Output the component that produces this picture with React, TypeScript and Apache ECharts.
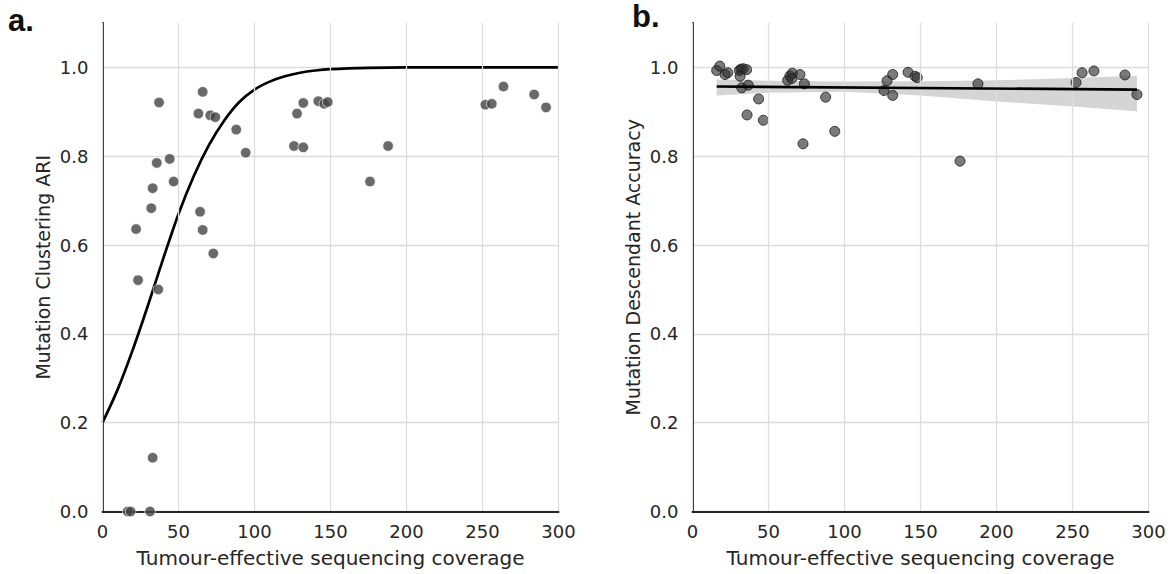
import React, { useEffect, useRef } from "react";
import * as echarts from "echarts";

// Panel a: mutation clustering ARI vs coverage
const clusterCoverage = [16.6, 18.5, 31.3, 33.0, 22.1, 23.4, 32.1, 33.0, 35.7, 36.7, 37.2, 44.2, 46.8, 63.1, 64.2, 65.9, 65.9, 70.9, 72.9, 74.2, 88.0, 94.2, 126.0, 128.0, 132.1, 132.1, 142.0, 145.9, 148.2, 176.0, 187.9, 251.9, 256.1, 263.8, 284.0, 291.8];
const clusterARI = [0.0, 0.0, 0.0, 0.121, 0.636, 0.521, 0.683, 0.728, 0.785, 0.5, 0.921, 0.794, 0.743, 0.896, 0.675, 0.945, 0.634, 0.892, 0.581, 0.888, 0.86, 0.808, 0.823, 0.896, 0.82, 0.92, 0.924, 0.918, 0.922, 0.743, 0.823, 0.916, 0.918, 0.957, 0.939, 0.91];

// Panel a: fitted curve
const fitCoverage = [0, 10, 20, 30, 40, 50, 60, 70, 80, 90, 100, 110, 120, 130, 140, 150, 175, 200, 250, 300];
const fitARI = [0.2, 0.275, 0.365, 0.465, 0.57, 0.67, 0.755, 0.825, 0.88, 0.922, 0.95, 0.968, 0.98, 0.988, 0.993, 0.996, 0.999, 1.0, 1.0, 1.0];

// Panel b: mutation descendant accuracy vs coverage
const descCoverage = [15.9, 17.9, 21.4, 23.2, 30.8, 31.9, 33.4, 35.6, 31.3, 32.4, 36.7, 43.5, 35.9, 46.6, 62.6, 64.1, 65.7, 65.3, 70.7, 73.6, 72.7, 87.6, 93.6, 126.0, 128.0, 131.7, 131.7, 141.8, 146.4, 147.9, 187.8, 176.0, 252.3, 256.3, 264.1, 284.5, 292.4];
const descAccuracy = [0.993, 1.003, 0.984, 0.988, 0.993, 0.996, 0.997, 0.995, 0.98, 0.954, 0.96, 0.929, 0.893, 0.881, 0.971, 0.981, 0.987, 0.975, 0.984, 0.963, 0.828, 0.933, 0.856, 0.948, 0.97, 0.984, 0.937, 0.989, 0.98, 0.977, 0.963, 0.789, 0.966, 0.988, 0.992, 0.983, 0.939];

// Panel b: regression line and confidence band
const regCoverage = [15.9, 292.4];
const regAccuracy = [0.957, 0.95];
const bandCoverage = [15.9, 50, 100, 150, 200, 250, 292.4];
const bandLower = [0.937, 0.943, 0.945, 0.937, 0.923, 0.912, 0.901];
const bandUpper = [0.973, 0.97, 0.968, 0.969, 0.971, 0.976, 0.981];

const xTicks = [0, 50, 100, 150, 200, 250, 300];
const yTicks = [0, 0.2, 0.4, 0.6, 0.8, 1.0];

const TEXT = "#262626";
const FONT = "DejaVu Sans";

export default function App() {
  const ref = useRef<HTMLDivElement>(null);
  useEffect(() => {
    const chart = echarts.init(ref.current!, null, { renderer: "svg" });

    const xAxis = (gridIndex: number) => ({
      type: "value",
      gridIndex,
      min: xTicks[0],
      max: xTicks[xTicks.length - 1],
      interval: 50,
      name: "Tumour-effective sequencing coverage",
      nameLocation: "middle",
      nameGap: 36,
      nameTextStyle: { fontSize: 20, color: TEXT, fontFamily: FONT },
      axisLine: { show: true, lineStyle: { color: TEXT, width: 2 } },
      axisTick: { show: false },
      axisLabel: { fontSize: 18, color: TEXT, fontFamily: FONT, margin: 11 },
      splitLine: { show: true, lineStyle: { color: "#dcdcdc", width: 1.3 } },
      z: 3,
    });
    const yAxis = (gridIndex: number, name: string) => ({
      type: "value",
      gridIndex,
      min: 0,
      max: 1.1,
      interval: 0.2,
      name,
      nameLocation: "middle",
      nameGap: 50,
      nameTextStyle: { fontSize: 19, color: TEXT, fontFamily: FONT },
      axisLine: { show: true, lineStyle: { color: TEXT, width: 2 } },
      axisTick: { show: false },
      axisLabel: {
        fontSize: 18,
        color: TEXT,
        fontFamily: FONT,
        margin: 14,
        formatter: (v: number) =>
          yTicks.some((t) => Math.abs(t - v) < 1e-6) ? v.toFixed(1) : "",
      },
      splitLine: {
        show: true,
        lineStyle: {
          color: ["#dcdcdc", "#dcdcdc", "#dcdcdc", "#dcdcdc", "#dcdcdc", "#dcdcdc", "rgba(0,0,0,0)"],
          width: 1.3,
        },
      },
    });

    chart.setOption({
      animation: false,
      backgroundColor: "#ffffff",
      grid: [
        { left: 102.5, top: 23, width: 456, height: 488.5 },
        { left: 692.5, top: 23, width: 456, height: 488.5 },
      ],
      xAxis: [xAxis(0), xAxis(1)],
      yAxis: [yAxis(0, "Mutation Clustering ARI"), yAxis(1, "Mutation Descendant Accuracy")],
      graphic: [
        {
          type: "text",
          left: 8,
          top: 5,
          style: { text: "a.", font: "bold 31px 'Liberation Sans'", fill: "#111" },
        },
        {
          type: "text",
          left: 632,
          top: 1,
          style: { text: "b.", font: "bold 31px 'Liberation Sans'", fill: "#111" },
        },
      ],
      series: [
        {
          type: "line",
          xAxisIndex: 0,
          yAxisIndex: 0,
          data: fitCoverage.map((x, i) => [x, fitARI[i]]),
          showSymbol: false,
          smooth: 0.3,
          lineStyle: { color: "#000", width: 2.7 },
          z: 2,
        },
        {
          type: "scatter",
          xAxisIndex: 0,
          yAxisIndex: 0,
          data: clusterCoverage.map((x, i) => [x, clusterARI[i]]),
          symbolSize: 10.5,
          itemStyle: { color: "#444444", borderColor: "#ffffff", borderWidth: 0.8 },
          z: 4,
        },
        {
          type: "custom",
          xAxisIndex: 1,
          yAxisIndex: 1,
          silent: true,
          data: [[bandCoverage[0], bandLower[0]]],
          renderItem: (_params: any, api: any) => {
            const up = bandCoverage.map((x, i) => api.coord([x, bandUpper[i]]));
            const lo = bandCoverage.map((x, i) => api.coord([x, bandLower[i]])).reverse();
            return {
              type: "polygon",
              shape: { points: up.concat(lo) },
              style: { fill: "rgba(150,150,150,0.4)", stroke: "none" },
            };
          },
          z: 1,
        },
        {
          type: "scatter",
          xAxisIndex: 1,
          yAxisIndex: 1,
          data: descCoverage.map((x, i) => [x, descAccuracy[i]]),
          symbolSize: 10,
          itemStyle: { color: "rgba(48,48,48,0.8)", borderColor: "#1a1a1a", borderWidth: 1 },
          z: 2,
        },
        {
          type: "line",
          xAxisIndex: 1,
          yAxisIndex: 1,
          data: regCoverage.map((x, i) => [x, regAccuracy[i]]),
          showSymbol: false,
          lineStyle: { color: "#000", width: 2.7 },
          z: 5,
        },
      ],
    });
    return () => chart.dispose();
  }, []);
  return (
    <div
      ref={ref}
      style={{ position: "absolute", left: 0, top: 0, width: 1173, height: 574 }}
    />
  );
}
